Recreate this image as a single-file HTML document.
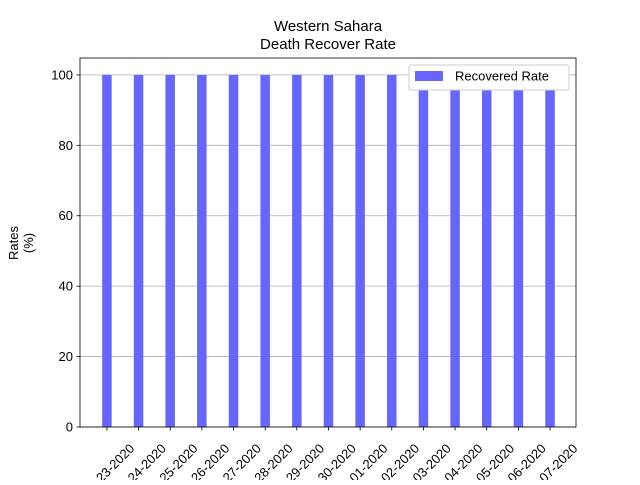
<!DOCTYPE html>
<html><head><meta charset="utf-8"><style>
body{margin:0;background:#fff;font-family:"Liberation Sans","DejaVu Sans",sans-serif}
</style></head><body>
<svg id="chart" width="640" height="480" xmlns="http://www.w3.org/2000/svg">
<text x="328" y="31" text-anchor="middle" font-size="15">Western Sahara</text>
<text x="328" y="49" text-anchor="middle" font-size="15">Death Recover Rate</text>
<g id="grid"></g><g id="bars"></g><g id="axes"></g>
<text transform="translate(20,243) rotate(-90)" text-anchor="middle" font-size="13"><tspan x="0" dy="-2">Rates</tspan><tspan x="0" dy="15">(%)</tspan></text>
<g>
<rect x="409" y="65" width="160" height="25" fill="#fff" stroke="#ccc" rx="2"/>
<rect x="415" y="71" width="28" height="10" fill="#6666ff"/>
<text x="455" y="80.5" font-size="13">Recovered Rate</text>
</g>
</svg>
<script>
const categories=["06-23-2020","06-24-2020","06-25-2020","06-26-2020","06-27-2020","06-28-2020","06-29-2020","06-30-2020","07-01-2020","07-02-2020","07-03-2020","07-04-2020","07-05-2020","07-06-2020","07-07-2020"];
const recoveredRate=[100,100,100,100,100,100,100,100,100,100,100,100,100,100,100];
const yTicks=[0,20,40,60,80,100];
const NS="http://www.w3.org/2000/svg";
const L=80,R=576,T=58,B=427;
const xMin=-0.85,xMax=14.82,yMax=104.8;
const xs=v=>L+(v-xMin)/(xMax-xMin)*(R-L);
const ys=v=>B-v/yMax*(B-T);
function mk(t,a,p){const e=document.createElementNS(NS,t);for(const k in a)e.setAttribute(k,a[k]);p.appendChild(e);return e;}
const grid=document.getElementById('grid'),bars=document.getElementById('bars'),axes=document.getElementById('axes');
yTicks.forEach(v=>{
 const g=mk('line',{x1:L,x2:R,y1:ys(v),y2:ys(v),stroke:'#b0b0b0','stroke-width':0.8},grid);
 
 
 mk('line',{x1:L-3.5,x2:L,y1:ys(v),y2:ys(v),stroke:'#000','stroke-width':0.8},axes);
 const t=mk('text',{x:L-7,y:ys(v)+4.5,'text-anchor':'end','font-size':13},axes);
 t.textContent=v;
 
 
});
const bw=0.3;
categories.forEach((c,i)=>{
 const x0=xs(i-bw/2),x1=xs(i+bw/2);
 const b=mk('rect',{x:x0,y:ys(recoveredRate[i]),width:x1-x0,height:B-ys(recoveredRate[i]),fill:'#6666ff'},bars);
 
 
 const tx=xs(i);
 mk('line',{x1:tx,x2:tx,y1:B,y2:B+3.5,stroke:'#000','stroke-width':0.8},axes);
 const t=mk('text',{x:0,y:0,'text-anchor':'middle','font-size':13,transform:`translate(${tx+2},${B+43}) rotate(-45)`,dy:'4'},axes);
 t.textContent=c;
 
 
});
mk('rect',{x:L,y:T,width:R-L,height:B-T,fill:'none',stroke:'#000','stroke-width':0.8},axes);
</script>
</body></html>
